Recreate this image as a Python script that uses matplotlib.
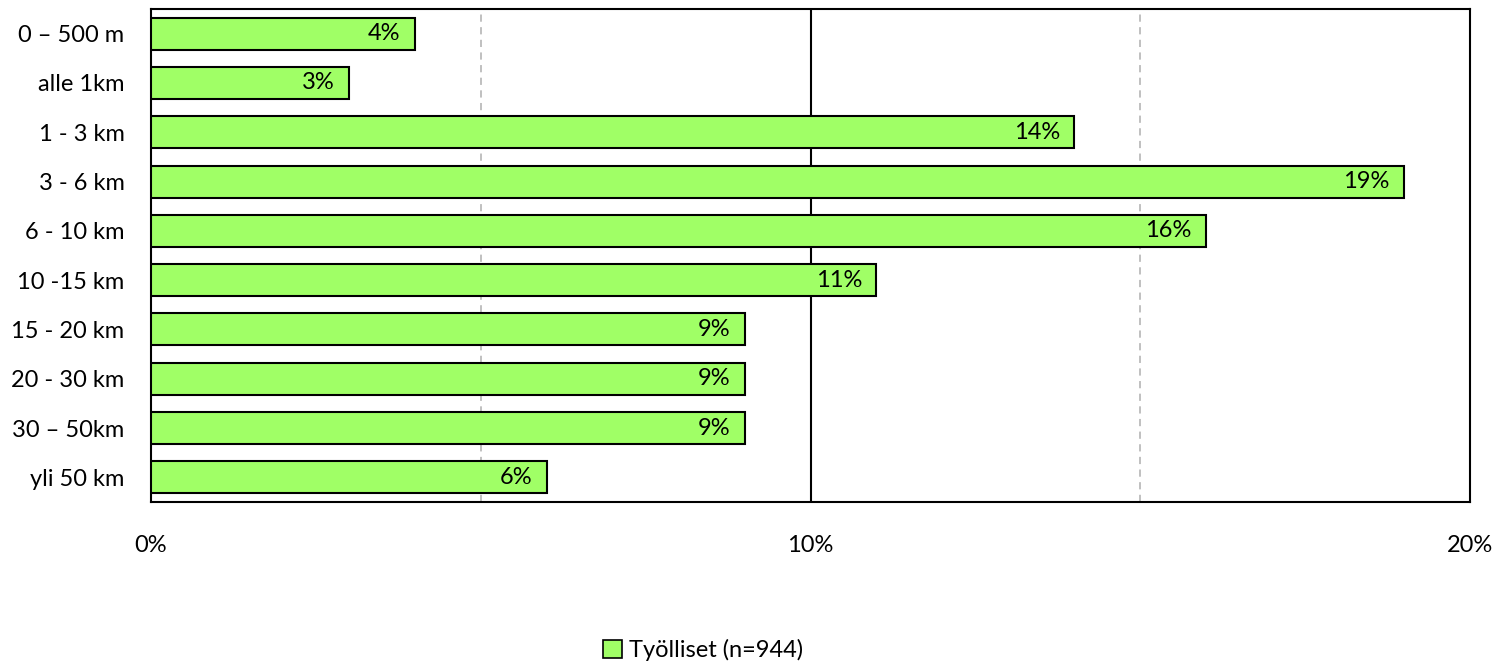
import matplotlib
matplotlib.use("Agg")
import matplotlib.pyplot as plt
from matplotlib.patches import Patch

plt.rcParams['font.family'] = ['Lato', 'DejaVu Sans']

categories = ["0 – 500 m", "alle 1km", "1 - 3 km", "3 - 6 km", "6 - 10 km",
              "10 -15 km", "15 - 20 km", "20 - 30 km", "30 – 50km", "yli 50 km"]
values = [4, 3, 14, 19, 16, 11, 9, 9, 9, 6]
labels = ["4%", "3%", "14%", "19%", "16%", "11%", "9%", "9%", "9%", "6%"]
xticks = [0, 10, 20]
xticklabels = ["0%", "10%", "20%"]
legend_label = "Työlliset (n=944)"

bar_color = "#A0FF66"
fs = 17

fig = plt.figure(figsize=(15.03, 6.63), dpi=100)
ax = fig.add_axes([151/1503, 1-502/663, (1470-151)/1503, (502-9)/663])

y = list(range(len(categories)))
ax.barh(y, values, height=0.65, color=bar_color, edgecolor="black", linewidth=1.5, zorder=3)
for yi, v, lab in zip(y, values, labels):
    ax.text(v - 0.22, yi, lab, ha="right", va="center", fontsize=fs, zorder=4)

ax.set_ylim(len(categories) - 0.5, -0.5)
ax.set_xlim(0, 20)
ax.set_yticks(y)
ax.set_yticklabels(categories, fontsize=fs)
ax.set_xticks(xticks)
ax.set_xticklabels(xticklabels, fontsize=fs)
ax.tick_params(axis="both", length=0)
ax.tick_params(axis="x", pad=24)
ax.tick_params(axis="y", pad=19)

for xv in [5, 15]:
    ax.axvline(xv, color="#BBBBBB", linestyle=(0, (4, 3)), linewidth=1.3, zorder=1)
ax.axvline(10, color="black", linewidth=1.5, zorder=1)

for s in ax.spines.values():
    s.set_color("black")
    s.set_linewidth(1.5)

handles = [Patch(facecolor=bar_color, edgecolor="black", linewidth=1.2, label=legend_label)]
fig.legend(handles=handles, loc="center", bbox_to_anchor=(703/1503, 1-650/663),
           frameon=False, fontsize=fs, handlelength=0.8, handleheight=0.8, handletextpad=0.3)

fig.savefig("out.png", dpi=100)
